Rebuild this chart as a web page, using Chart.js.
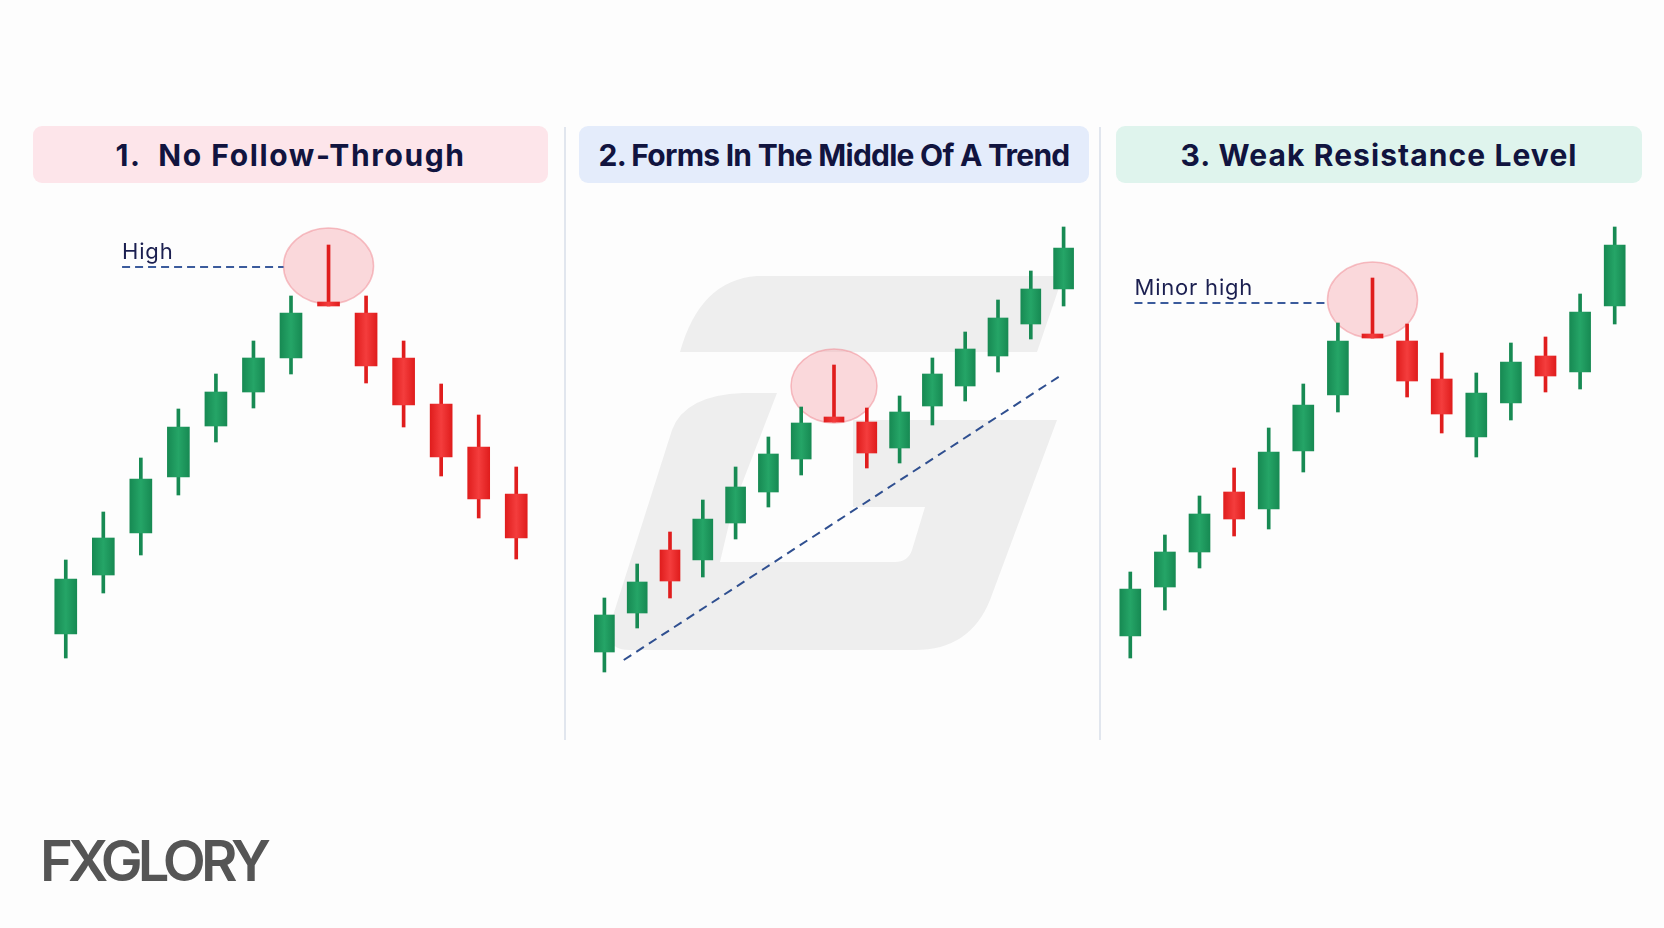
<!DOCTYPE html>
<html>
<head>
<meta charset="utf-8">
<script src="https://cdn.jsdelivr.net/npm/chart.js@4.4.1/dist/chart.umd.min.js"></script>
<style>
    body {
        margin: 0;
        width: 1664px;
        height: 928px;
        background: #fdfdfd;
        position: relative;
        overflow: hidden;
        font-family: Inter, "Open Sans", sans-serif;
    }
    .header {
        position: absolute;
        top: 126px;
        height: 57px;
        border-radius: 9px;
        display: flex;
        align-items: center;
        justify-content: center;
    }
    .header span {
        font-weight: 700;
        font-size: 30px;
        color: #11143f;
        white-space: pre;
    }
    .sep {
        position: absolute;
        top: 127px;
        width: 1.5px;
        height: 613px;
        background: #e1e6ee;
    }
    .chart-box {
        position: absolute;
        top: 200px;
        height: 500px;
    }
    #logo {
        position: absolute;
        left: 40px;
        top: 826px;
        font-weight: 600;
        font-size: 56px;
        line-height: 70px;
        color: #555555;
        white-space: pre;
    }
    #watermark {
        position: absolute;
        left: 0;
        top: 0;
    }
</style>
</head>
<body>

<svg id="watermark" width="1664" height="928">
    <path d="M 757 276 L 1063 276 L 1037 352 L 680 352 Q 700 280 757 276 Z" fill="#eeeeee"/>
    <path d="M 743 393 L 777 393 L 733 507 L 720 562 L 895 562 Q 908 562 912 550 L 925 507 L 853 507 L 853 420 L 1057 420 L 990 600 Q 970 650 915 650 L 630 650 Q 605 650 610 625 L 672 430 Q 685 395 743 393 Z" fill="#eeeeee"/>
</svg>

<div class="header" style="left:33px; width:515px; background:#fde5ea;"><span data-w="351">1.  No Follow-Through</span></div>
<div class="header" style="left:579px; width:510px; background:#e4ecfb;"><span data-w="472">2. Forms In The Middle Of A Trend</span></div>
<div class="header" style="left:1116px; width:526px; background:#dff4ed;"><span data-w="398">3. Weak Resistance Level</span></div>

<div class="sep" style="left:564px;"></div>
<div class="sep" style="left:1099px;"></div>

<div class="chart-box" style="left:47px; width:488px;"><canvas id="chart1"></canvas></div>
<div class="chart-box" style="left:588px; width:492px;"><canvas id="chart2"></canvas></div>
<div class="chart-box" style="left:1113px; width:519px;"><canvas id="chart3"></canvas></div>

<div id="logo" data-w="226">FXGLORY</div>

<script>
const GREEN = '#178a53';
const GREEN_LIGHT = '#25a567';
const RED = '#e01d1d';
const RED_LIGHT = '#f43d3d';

// panel 1: no follow-through
const p1Bars  = ['1','2','3','4','5','6','7','8','9','10','11','12','13'];
const p1Open  = [13.2, 25.0, 33.4, 44.6, 54.8, 61.6, 68.4, 79.6, 77.4, 68.4, 59.2, 50.6, 41.2];
const p1High  = [28.0, 37.6, 48.4, 58.2, 65.2, 71.8, 80.8, 91.0, 80.8, 71.8, 63.2, 57.0, 46.6];
const p1Low   = [ 8.4, 21.4, 29.0, 41.0, 51.6, 58.4, 65.2, 78.8, 63.4, 54.6, 44.8, 36.4, 28.2];
const p1Close = [24.2, 32.4, 44.2, 54.6, 61.6, 68.4, 77.4, 78.8, 66.8, 59.0, 48.6, 40.2, 32.4];

// panel 2: middle of a trend
const p2Bars  = ['1','2','3','4','5','6','7','8','9','10','11','12','13','14','15'];
const p2Open  = [ 9.6, 17.4, 30.0, 28.0, 35.4, 41.6, 48.2, 56.6, 55.6, 50.4, 58.8, 62.8, 68.8, 75.2, 82.2];
const p2High  = [20.4, 27.2, 33.6, 40.0, 46.6, 52.6, 58.6, 67.0, 58.4, 60.8, 68.4, 73.6, 80.0, 85.8, 94.6];
const p2Low   = [ 5.6, 14.4, 20.4, 24.6, 32.2, 38.6, 45.0, 55.6, 46.4, 47.4, 55.0, 59.8, 65.6, 72.2, 78.8];
const p2Close = [17.0, 23.6, 23.8, 36.2, 42.6, 49.2, 55.4, 55.6, 49.4, 57.6, 65.2, 70.2, 76.4, 82.2, 90.4];

// panel 3: weak resistance level
const p3Bars  = ['1','2','3','4','5','6','7','8','9','10','11','12','13','14','15'];
const p3Open  = [12.8, 22.6, 29.6, 41.6, 38.2, 49.8, 61.0, 73.2, 71.8, 64.2, 52.6, 59.4, 68.8, 65.6, 78.8];
const p3High  = [25.6, 33.0, 40.8, 46.4, 54.4, 63.2, 75.4, 84.4, 75.2, 69.4, 65.4, 71.4, 72.6, 81.2, 94.6];
const p3Low   = [ 8.4, 18.0, 26.4, 32.8, 34.2, 45.6, 57.6, 72.4, 60.6, 53.4, 48.6, 56.0, 61.6, 62.2, 75.2];
const p3Close = [22.2, 29.6, 37.2, 36.2, 49.6, 59.0, 71.8, 72.4, 63.8, 57.2, 61.4, 67.6, 64.8, 77.6, 91.0];

// annotations: highlighted doji, circle centre, level lines, trend line
const highlightIndex = [7, 7, 7];
const circleCenter   = [86.8, 62.8, 80.0];
const levelLabels    = ['High', null, 'Minor high'];
const levelValues    = [86.6, null, 79.4];
const levelStart     = [1.5, null, 0.12];
const trendFrom      = [0.59, 8.0];
const trendTo        = [13.89, 64.8];

function annotationPlugin(panel, rx, ry) {
    return {
        id: 'notes' + panel,
        beforeDatasetsDraw(chart) {
            const ctx = chart.ctx;
            const x = chart.scales.x, y = chart.scales.y;
            const cx = x.getPixelForValue(highlightIndex[panel]);
            const cy = y.getPixelForValue(circleCenter[panel]);
            ctx.save();
            ctx.beginPath();
            ctx.ellipse(cx, cy, rx, ry, 0, 0, Math.PI * 2);
            ctx.fillStyle = 'rgba(246,165,172,0.42)';
            ctx.fill();
            ctx.lineWidth = 1.5;
            ctx.strokeStyle = 'rgba(240,140,150,0.55)';
            ctx.stroke();
            ctx.restore();
        },
        afterDatasetsDraw(chart) {
            const ctx = chart.ctx;
            const x = chart.scales.x, y = chart.scales.y;
            ctx.save();
            ctx.setLineDash([8, 5]);
            ctx.lineWidth = 1.8;
            ctx.strokeStyle = '#3b5b9c';
            if (levelValues[panel] !== null) {
                const ly = y.getPixelForValue(levelValues[panel]);
                const x0 = x.getPixelForValue(levelStart[panel]);
                const x1 = x.getPixelForValue(highlightIndex[panel]) - rx;
                ctx.beginPath();
                ctx.moveTo(x0, ly);
                ctx.lineTo(x1, ly);
                ctx.stroke();
                ctx.setLineDash([]);
                ctx.fillStyle = '#1b1f50';
                ctx.font = '22px Inter, sans-serif';
                ctx.letterSpacing = '0.8px';
                ctx.textBaseline = 'alphabetic';
                ctx.fillText(levelLabels[panel], x0, ly - 8);
            }
            if (panel === 1) {
                ctx.setLineDash([9, 6]);
                ctx.lineWidth = 2;
                ctx.strokeStyle = '#2f4f90';
                ctx.beginPath();
                ctx.moveTo(x.getPixelForValue(trendFrom[0]), y.getPixelForValue(trendFrom[1]));
                ctx.lineTo(x.getPixelForValue(trendTo[0]), y.getPixelForValue(trendTo[1]));
                ctx.stroke();
            }
            ctx.restore();
        }
    };
}

// body colour with a soft highlight down the middle of each candle
function bodyFill(up, width) {
    return context => {
        const chart = context.chart;
        const base = up[context.dataIndex] ? GREEN : RED;
        const light = up[context.dataIndex] ? GREEN_LIGHT : RED_LIGHT;
        if (!chart.chartArea || context.dataIndex === undefined) return base;
        const cx = chart.scales.x.getPixelForValue(context.dataIndex);
        const g = chart.ctx.createLinearGradient(cx - width / 2, 0, cx + width / 2, 0);
        g.addColorStop(0, base);
        g.addColorStop(0.5, light);
        g.addColorStop(1, base);
        return g;
    };
}

function makeCandleChart(id, labels, open, high, low, close, bodyWidth, panel, rx, ry) {
    const up = open.map((o, i) => close[i] >= o);
    const colors = up.map(u => u ? GREEN : RED);
    return new Chart(document.getElementById(id), {
        type: 'bar',
        data: {
            labels: labels,
            datasets: [
                {
                    data: labels.map((_, i) => [low[i], high[i]]),
                    backgroundColor: colors,
                    barThickness: 3,
                    grouped: false,
                    order: 2
                },
                {
                    data: labels.map((_, i) => [open[i], close[i]]),
                    backgroundColor: bodyFill(up, bodyWidth),
                    barThickness: bodyWidth,
                    grouped: false,
                    order: 1
                }
            ]
        },
        options: {
            responsive: true,
            maintainAspectRatio: false,
            animation: false,
            layout: { padding: 0 },
            plugins: {
                legend: { display: false },
                tooltip: { enabled: false }
            },
            scales: {
                x: { display: false },
                y: { display: false, min: 0, max: 100 }
            }
        },
        plugins: [annotationPlugin(panel, rx, ry)]
    });
}

// squeeze text to the widths of the original
function fitText(el, family) {
    const cs = getComputedStyle(el);
    const c = document.createElement('canvas').getContext('2d');
    c.font = cs.fontWeight + ' ' + cs.fontSize + ' ' + family;
    const text = el.textContent;
    const w = c.measureText(text).width;
    const ls = (Number(el.dataset.w) - w) / text.length;
    el.style.letterSpacing = ls.toFixed(2) + 'px';
}

document.querySelectorAll('.header span').forEach(s => fitText(s, 'Inter'));
fitText(document.getElementById('logo'), 'Inter');

makeCandleChart('chart1', p1Bars, p1Open, p1High, p1Low, p1Close, 22, 0, 45, 38);
makeCandleChart('chart2', p2Bars, p2Open, p2High, p2Low, p2Close, 20, 1, 43, 37);
makeCandleChart('chart3', p3Bars, p3Open, p3High, p3Low, p3Close, 21, 2, 45, 38);
</script>
</body>
</html>
